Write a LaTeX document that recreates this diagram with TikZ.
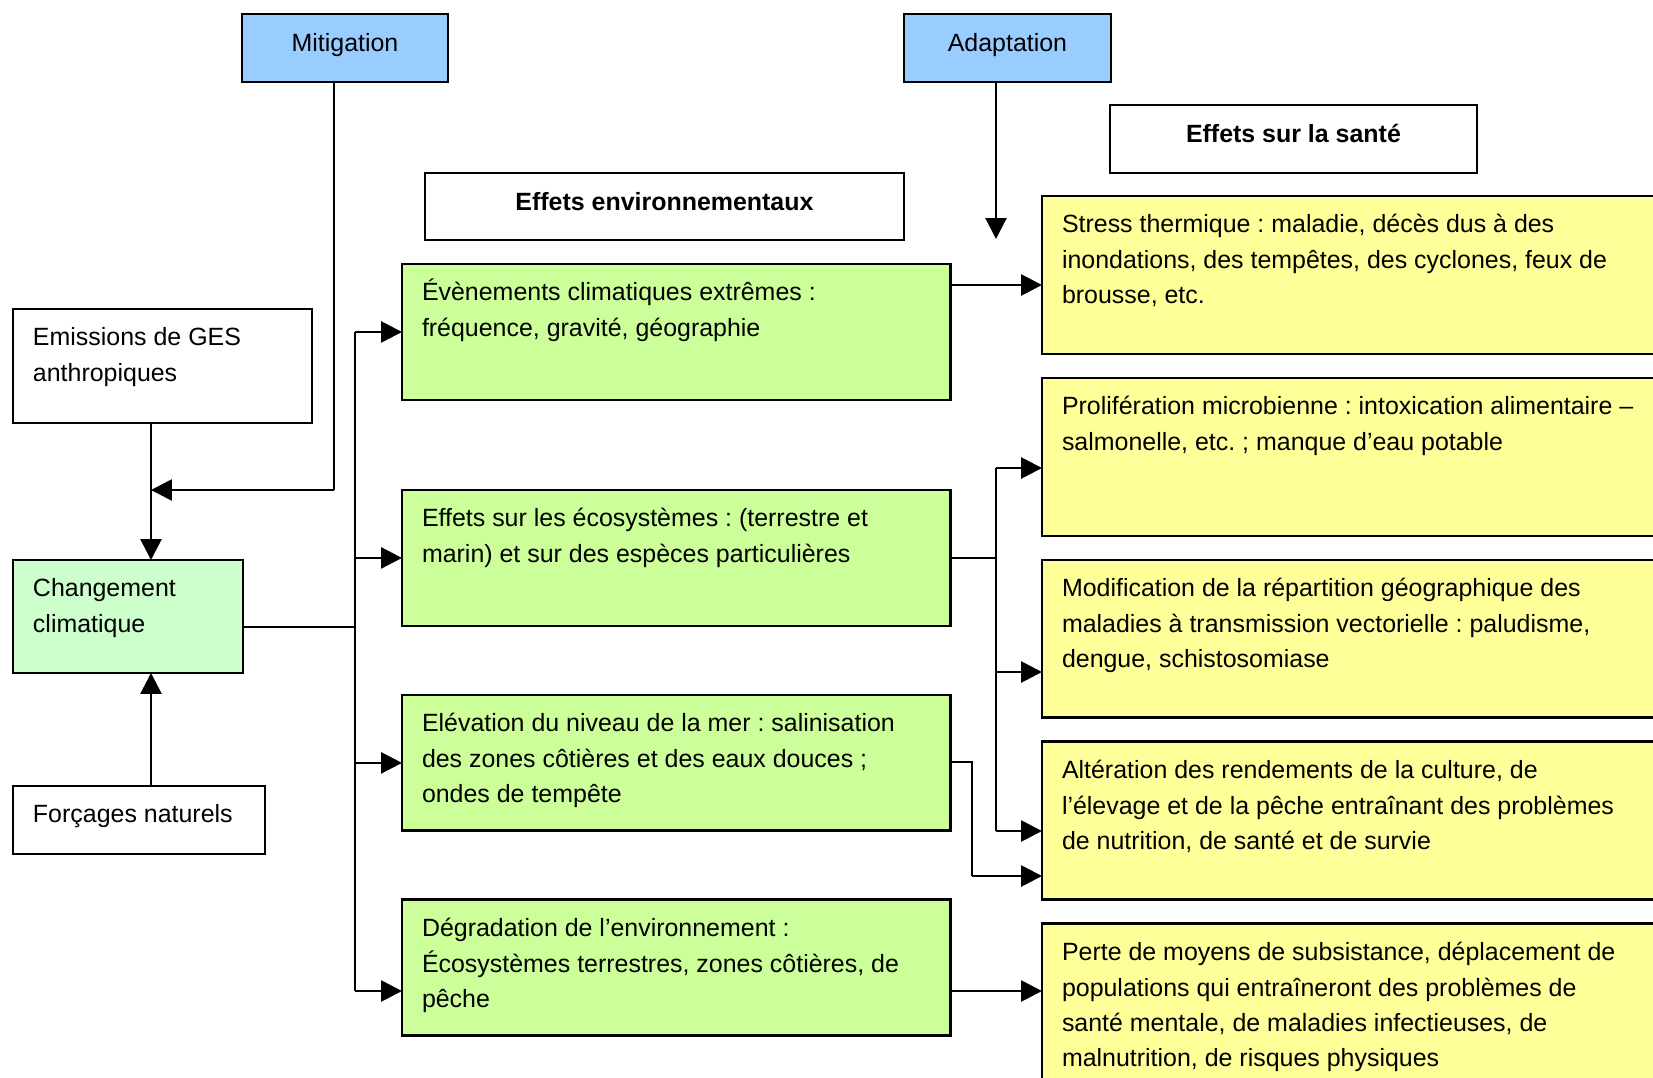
\documentclass[tikz,border=0pt]{standalone}
\usepackage{fontspec}
\setmainfont{Liberation Sans}
\usetikzlibrary{arrows.meta, positioning}
\definecolor{mitblue}{HTML}{99CCFF}
\definecolor{envgreen}{HTML}{CCFF99}
\definecolor{ccgreen}{HTML}{CCFFCC}
\definecolor{santeyellow}{HTML}{FFFF99}
\tikzstyle{block} = [rectangle,
			draw,
			line width = 1.6pt,
			inner xsep = 0.4cm,
			inner ysep = 0.244cm,
			outer sep = 0pt,
			anchor = north west]
\tikzstyle{header} = [rectangle,
			draw,
			line width = 1.6pt,
			text centered,
			inner sep = 0pt,
			outer sep = 0pt,
			text height = 0.36cm,
			text depth = 0.2cm,
			anchor = north west,
			minimum height = 1.36cm]
\tikzstyle{link} = [draw, line width = 1.0pt]
\tikzstyle{flow} = [draw, line width = 1.6pt,
			-{Triangle[length=0.42cm, width=0.42cm]}]
\newcommand{\boxtext}[3]{\parbox[t][#1][t]{#2}{\frenchspacing\raggedright\strut #3}}

\begin{document}
\begin{tikzpicture}[x=0.02cm, y=-0.02cm, font=\fontsize{14.2pt}{20.1pt}\selectfont]
	\useasboundingbox (0,0) rectangle (1653,1078);
	% titles
	\node [header, fill=mitblue, minimum width=4.12cm] (mit) at (242,14) {Mitigation};
	\node [header, fill=mitblue, minimum width=4.14cm] (adapt) at (904,14) {Adaptation};
	\node [header, minimum width=7.34cm] (sante) at (1110,105) {\textbf{Effets sur la santé}};
	\node [header, minimum width=9.58cm, minimum height=1.34cm] (env) at (425,173) {\textbf{Effets environnementaux}};
	% causes
	\node [block] (emis) at (13,309) {\boxtext{1.792cm}{5.18cm}{Emissions de GES\\anthropiques}};
	\node [block, fill=ccgreen] (chg) at (13,560) {\boxtext{1.772cm}{3.8cm}{Changement\\climatique}};
	\node [block] (forc) at (13,786) {\boxtext{0.872cm}{4.24cm}{Forçages naturels}};
	% environmental effects
	\node [block, fill=envgreen] (evt) at (402,264) {\boxtext{2.232cm}{10.18cm}{Évènements climatiques extrêmes :\\fréquence, gravité, géographie}};
	\node [block, fill=envgreen, below=1.8cm of evt] (eco) {\boxtext{2.232cm}{10.18cm}{Effets sur les écosystèmes : (terrestre et\\marin) et sur des espèces particulières}};
	\node [block, fill=envgreen, below=1.38cm of eco] (elev) {\boxtext{2.232cm}{10.18cm}{Elévation du niveau de la mer : salinisation\\des zones côtières et des eaux douces ;\\ondes de tempête}};
	\node [block, fill=envgreen, below=1.38cm of elev] (deg) {\boxtext{2.232cm}{10.18cm}{Dégradation de l’environnement :\\Écosystèmes terrestres, zones côtières, de\\pêche}};
	% health effects
	\node [block, fill=santeyellow] (stress) at (1042,196) {\boxtext{2.672cm}{11.76cm}{Stress thermique : maladie, décès dus à des\\inondations, des tempêtes, des cyclones, feux de\\brousse, etc.}};
	\node [block, fill=santeyellow, below=0.48cm of stress] (prolif) {\boxtext{2.672cm}{11.76cm}{Prolifération microbienne : intoxication alimentaire –\\salmonelle, etc. ; manque d’eau potable}};
	\node [block, fill=santeyellow, below=0.48cm of prolif] (modif) {\boxtext{2.672cm}{11.76cm}{Modification de la répartition géographique des\\maladies à transmission vectorielle : paludisme,\\dengue, schistosomiase}};
	\node [block, fill=santeyellow, below=0.48cm of modif] (alter) {\boxtext{2.672cm}{11.76cm}{Altération des rendements de la culture, de\\l’élevage et de la pêche entraînant des problèmes\\de nutrition, de santé et de survie}};
	\node [block, fill=santeyellow, below=0.48cm of alter] (perte) {\boxtext{2.912cm}{11.76cm}{Perte de moyens de subsistance, déplacement de\\populations qui entraîneront des problèmes de\\santé mentale, de maladies infectieuses, de\\malnutrition, de risques physiques}};
	% left connectors
	\coordinate (mitEnd) at (334,490);
	\coordinate (leftV) at (151,490);
	\draw [link, line width=0.7pt] (mit.south -| mitEnd) -- (mitEnd);
	\draw [flow] (mitEnd) -- (leftV);
	\draw [flow] (emis.south -| leftV) -- (chg.north -| leftV);
	\draw [flow] (forc.north -| leftV) -- (chg.south -| leftV);
	% trunk to environmental effects
	\coordinate (trunkL) at (355,627);
	\coordinate (degIn) at (402,991);
	\draw [link] (chg.east |- trunkL) -- (trunkL);
	\draw [link] (trunkL |- evt.west) -- (trunkL |- degIn);
	\draw [flow] (trunkL |- evt.west) -- (evt.west);
	\draw [flow] (trunkL |- eco.west) -- (eco.west);
	\draw [flow] (trunkL |- elev.west) -- (elev.west);
	\draw [flow] (trunkL |- degIn) -- (degIn);
	% right connectors
	\coordinate (adaptEnd) at (996,239);
	\coordinate (stressIn) at (1042,285);
	\coordinate (trunkR) at (996,559);
	\coordinate (prolifIn) at (1042,468);
	\coordinate (modifIn) at (1042,672);
	\coordinate (alterIn) at (1042,831);
	\coordinate (elevBend) at (972,762);
	\coordinate (alterIn2) at (1042,876);
	\coordinate (perteIn) at (1042,991);
	\draw [flow, line width=1.2pt] (adapt.south -| adaptEnd) -- (adaptEnd);
	\draw [flow] (evt.east |- stressIn) -- (stressIn);
	\draw [link] (eco.east) -- (eco.east -| trunkR);
	\draw [link] (trunkR |- prolifIn) -- (trunkR |- alterIn);
	\draw [flow] (trunkR |- prolifIn) -- (prolifIn);
	\draw [flow] (trunkR |- modifIn) -- (modifIn);
	\draw [flow] (trunkR |- alterIn) -- (alterIn);
	\draw [link] (elev.east |- elevBend) -- (elevBend) -- (elevBend |- alterIn2);
	\draw [flow] (elevBend |- alterIn2) -- (alterIn2);
	\draw [flow] (deg.east |- perteIn) -- (perteIn);
\end{tikzpicture}
\end{document}
